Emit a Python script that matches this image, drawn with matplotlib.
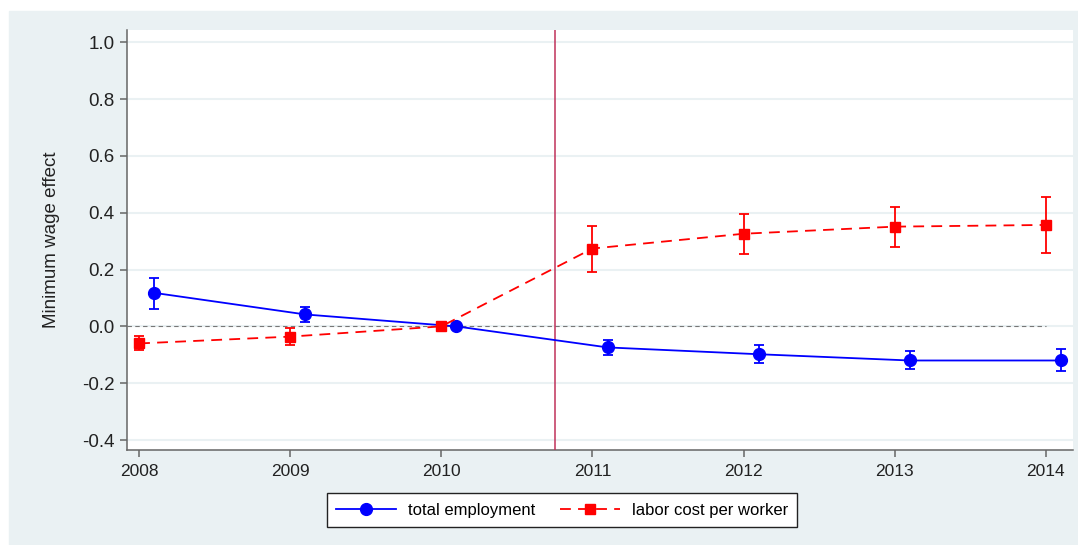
import matplotlib.pyplot as plt
from matplotlib.patches import Rectangle
from matplotlib.lines import Line2D

plt.rcParams['font.family'] = ['Liberation Sans', 'DejaVu Sans']

years = [2008, 2009, 2010, 2011, 2012, 2013, 2014]

# total employment: estimate and 95% CI
emp = [0.118, 0.042, 0.0, -0.074, -0.098, -0.120, -0.120]
emp_lo = [0.062, 0.016, 0.0, -0.102, -0.130, -0.151, -0.158]
emp_hi = [0.172, 0.068, 0.0, -0.047, -0.066, -0.088, -0.081]

# labor cost per worker: estimate and 95% CI
cost = [-0.060, -0.036, 0.0, 0.274, 0.326, 0.351, 0.357]
cost_lo = [-0.084, -0.067, 0.0, 0.193, 0.253, 0.281, 0.260]
cost_hi = [-0.035, -0.007, 0.0, 0.355, 0.396, 0.421, 0.455]

yticks = [-0.4, -0.2, 0.0, 0.2, 0.4, 0.6, 0.8, 1.0]
policy_year = 2010.75

bg = '#EAF1F3'
fs = 12
fig = plt.figure(figsize=(10.78, 5.45), dpi=100)
fig.patches.append(Rectangle((9 / 1078, 0), 1 - 9 / 1078, 1 - 11 / 545,
                             transform=fig.transFigure, color=bg, zorder=-10))

ax = fig.add_axes([127 / 1078, 1 - 450 / 545, (1073 - 127) / 1078, 420 / 545])
ax.set_facecolor('white')

blue_style = dict(color='#0000FF', lw=1.3, marker='o', ms=8.5)
red_style = dict(color='#FF0000', lw=1.3, ls=(0, (6, 4)), marker='s', ms=6.5)

x_emp = [y + 0.1 for y in years]
ax.errorbar(x_emp, emp,
            yerr=[[e - l for e, l in zip(emp, emp_lo)], [h - e for e, h in zip(emp, emp_hi)]],
            capsize=3.6, elinewidth=1.3, capthick=1.3, zorder=4, **blue_style)
ax.errorbar(years, cost,
            yerr=[[c - l for c, l in zip(cost, cost_lo)], [h - c for c, h in zip(cost, cost_hi)]],
            capsize=3.6, elinewidth=1.3, capthick=1.3, zorder=4, **red_style)

ax.axvline(policy_year, color='#C0325A', lw=1.1, zorder=3)
ax.hlines(0, 2007.92, 2014, colors='#777777', lw=0.8, linestyles=(0, (4, 3)), zorder=2)

ax.set_xlim(2007.92, 2014.18)
ax.set_ylim(-0.435, 1.043)
ax.set_xticks(years)
ax.set_yticks(yticks)
ax.set_yticklabels([f'{v:.1f}' for v in yticks])
ax.grid(axis='y', color=bg, lw=1.5, zorder=1)
ax.set_axisbelow(True)

for s in ['top', 'right']:
    ax.spines[s].set_visible(False)
for s in ['left', 'bottom']:
    ax.spines[s].set_color('#666666')
    ax.spines[s].set_linewidth(1.1)
ax.tick_params(colors='#666666', labelcolor='#222222', length=5, width=1.1)
ax.tick_params(axis='x', labelsize=12.5, pad=5)
ax.tick_params(axis='y', labelsize=13.5, pad=4)
ax.set_ylabel('Minimum wage effect', fontsize=13.5, color='#222222', labelpad=16)

handles = [Line2D([], [], **blue_style), Line2D([], [], **red_style)]
labels = ['total employment', 'labor cost per worker']
leg = fig.legend(handles, labels, loc='center', bbox_to_anchor=(562 / 1078, 1 - 510 / 545),
                 ncol=2, fontsize=fs, frameon=True, fancybox=False, edgecolor='#222222',
                 framealpha=1, handlelength=3.6, handletextpad=0.7, columnspacing=1.5,
                 borderpad=0.55)
leg.get_frame().set_linewidth(1.0)

fig.savefig('out.png', dpi=100)
